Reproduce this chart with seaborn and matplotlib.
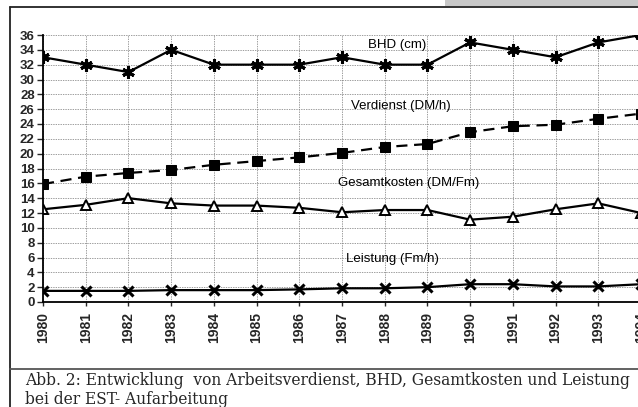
import numpy as np
import pandas as pd
import seaborn as sns
import matplotlib.pyplot as plt
from matplotlib.lines import Line2D
from matplotlib.patches import Rectangle

# values
years = list(range(1980, 1995))
bhd = [33, 32, 31, 34, 32, 32, 32, 33, 32, 32, 35, 34, 33, 35, 36]
verdienst = [15.9, 16.9, 17.4, 17.8, 18.5, 19.0, 19.5, 20.1, 20.9, 21.3, 22.9, 23.7, 23.9, 24.7, 25.4]
gesamtkosten = [12.5, 13.1, 14.0, 13.3, 13.0, 13.0, 12.7, 12.1, 12.4, 12.4, 11.1, 11.5, 12.5, 13.3, 12.0]
leistung = [1.5, 1.5, 1.5, 1.6, 1.6, 1.6, 1.7, 1.85, 1.85, 2.0, 2.4, 2.4, 2.1, 2.1, 2.4]
caption1 = "Abb. 2: Entwicklung  von Arbeitsverdienst, BHD, Gesamtkosten und Leistung"
caption2 = "bei der EST- Aufarbeitung"

sns.set_style('white')
plt.rcParams['font.family'] = ['Liberation Sans', 'DejaVu Sans']

df = pd.DataFrame({'Jahr': years, 'BHD': bhd, 'Verdienst': verdienst,
                   'Gesamtkosten': gesamtkosten, 'Leistung': leistung})

W, H = 638, 407
fig = plt.figure(figsize=(W / 100, H / 100), dpi=100)

# outer frame of the scanned page
fig.add_artist(Line2D([10 / W, 10 / W], [0, 1 - 7 / H], transform=fig.transFigure, color='#222', lw=1.3))
fig.add_artist(Line2D([10 / W, 1], [1 - 7 / H, 1 - 7 / H], transform=fig.transFigure, color='#222', lw=1.3))
fig.add_artist(Rectangle((445 / W, 1 - 6 / H), 1 - 445 / W, 6 / H, transform=fig.transFigure,
                         color='#c8c8c8', lw=0))
fig.add_artist(Line2D([10 / W, 1], [1 - 369 / H, 1 - 369 / H], transform=fig.transFigure,
                      color='#555', lw=1.3))

ax = fig.add_axes([43 / W, 1 - 302 / H, 598 / W, 267 / H])

sns.lineplot(data=df, x='Jahr', y='BHD', ax=ax, color='black', lw=1.6,
             marker=(6, 2, 0), markersize=9, markeredgewidth=2.2, markeredgecolor='black')
sns.lineplot(data=df, x='Jahr', y='Verdienst', ax=ax, color='black', lw=1.6,
             linestyle=(0, (5, 3)), marker='s', markersize=7, markerfacecolor='black',
             markeredgecolor='black')
sns.lineplot(data=df, x='Jahr', y='Gesamtkosten', ax=ax, color='black', lw=1.6,
             marker='^', markersize=7, markerfacecolor='white', markeredgecolor='black',
             markeredgewidth=1.4)
sns.lineplot(data=df, x='Jahr', y='Leistung', ax=ax, color='black', lw=1.6,
             marker='x', markersize=7, markeredgewidth=2.2, markeredgecolor='black')

ax.set_xlim(1980, 1994)
ax.set_ylim(0, 36)
ax.set_xticks(years)
ax.set_yticks(range(0, 37, 2))
ax.set_xticklabels([str(y) for y in years], rotation=90, fontweight='bold', fontsize=10)
ax.set_yticklabels([str(v) for v in range(0, 37, 2)], fontweight='bold', fontsize=9.5)
ax.tick_params(axis='y', direction='out', length=4, width=1, pad=2, left=True)
ax.tick_params(axis='x', direction='out', length=3, width=1, pad=4, bottom=True)
ax.grid(True, color='#777', linestyle=(0, (2, 1.5)), linewidth=0.5)
ax.set_axisbelow(True)
ax.set_xlabel('')
ax.set_ylabel('')
for s in ['top', 'right']:
    ax.spines[s].set_visible(False)
for s in ['left', 'bottom']:
    ax.spines[s].set_color('black')
    ax.spines[s].set_linewidth(1.3)

# series names written inside the plot
lab = dict(fontsize=9.5, va='center', ha='left', color='black')
ax.text(1987.6, 34.6, 'BHD (cm)', **lab)
ax.text(1987.2, 26.4, 'Verdienst (DM/h)', **lab)
ax.text(1986.9, 16.0, 'Gesamtkosten (DM/Fm)', **lab)
ax.text(1987.1, 5.8, 'Leistung (Fm/h)', **lab)

cap = dict(family='DejaVu Serif', fontsize=11.2, va='baseline', ha='left')
fig.text(25 / W, 1 - 385 / H, caption1, **cap)
fig.text(25 / W, 1 - 404 / H, caption2, **cap)

fig.savefig('out.png', dpi=100)
